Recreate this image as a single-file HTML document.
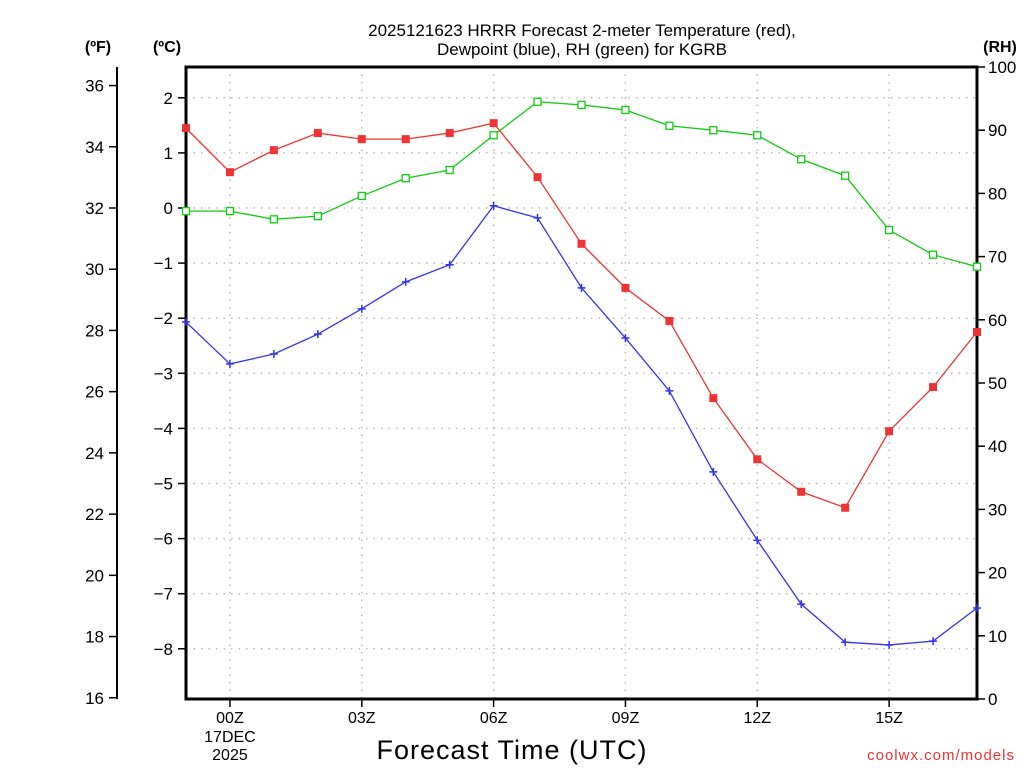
<!DOCTYPE html>
<html><head><meta charset="utf-8"><style>
body{margin:0;background:#fff;}
svg text{font-family:"Liberation Sans",sans-serif;fill:#000;}
</style></head><body>
<svg id="chart" width="1024" height="768" viewBox="0 0 1024 768" xmlns="http://www.w3.org/2000/svg">
<g id="grid"></g>
<g id="axes"></g>
<g id="series"></g>
<text x="582" y="36" font-size="17" text-anchor="middle">2025121623 HRRR Forecast 2-meter Temperature (red),</text>
<text x="582" y="55" font-size="17" text-anchor="middle">Dewpoint (blue), RH (green) for KGRB</text>
<text x="98" y="52" font-size="16" font-weight="bold" text-anchor="middle">(ºF)</text>
<text x="167" y="52" font-size="16" font-weight="bold" text-anchor="middle">(ºC)</text>
<text x="1000" y="52" font-size="16" font-weight="bold" text-anchor="middle">(RH)</text>
<text x="512" y="759" font-size="27" text-anchor="middle" letter-spacing="1">Forecast Time (UTC)</text>
<text x="1015" y="760" font-size="15" fill="#e33" style="fill:#ee3333" text-anchor="end" letter-spacing="1">coolwx.com/models</text>
</svg>
<script>
const hours=["23","00","01","02","03","04","05","06","07","08","09","10","11","12","13","14","15","16","17"];
const tempC=[1.45,0.65,1.05,1.36,1.25,1.25,1.36,1.54,0.56,-0.65,-1.45,-2.05,-3.45,-4.56,-5.15,-5.44,-4.05,-3.25,-2.25];
const dewC=[-2.07,-2.83,-2.65,-2.29,-1.83,-1.34,-1.03,0.04,-0.18,-1.45,-2.36,-3.32,-4.79,-6.03,-7.19,-7.88,-7.93,-7.86,-7.26];
const rh=[77.2,77.2,75.9,76.4,79.6,82.4,83.7,89.2,94.5,94.0,93.2,90.7,90.0,89.2,85.4,82.8,74.2,70.3,68.4];
const cTicks=[2,1,0,-1,-2,-3,-4,-5,-6,-7,-8];
const fTicks=[36,34,32,30,28,26,24,22,20,18,16];
const rhTicks=[0,10,20,30,40,50,60,70,80,90,100];
const xTickIdx=[1,4,7,10,13,16];
const xTickLabels=["00Z","03Z","06Z","09Z","12Z","15Z"];

const L=186,R=977,T=67,B=699;
const NS="http://www.w3.org/2000/svg";
const xS=i=>L+i*(R-L)/(hours.length-1);
const yC=c=>208-c*55.1;
const yF=f=>yC((f-32)*5/9);
const yR=r=>B-r*(B-T)/100;
function mk(tag,attrs,parent){const e=document.createElementNS(NS,tag);for(const k in attrs)e.setAttribute(k,attrs[k]);parent.appendChild(e);return e;}
const grid=document.getElementById('grid'),axes=document.getElementById('axes'),series=document.getElementById('series');

cTicks.forEach(c=>{
  const g=mk('line',{x1:L,x2:R,y1:yC(c),y2:yC(c),stroke:'#bbb','stroke-width':1.5,'stroke-dasharray':'1.5 6'},grid);
  
  
  const t=mk('line',{x1:L-8,x2:L,y1:yC(c),y2:yC(c),stroke:'#000','stroke-width':1.5},axes);
  
  
  const tx=mk('text',{x:L-13,y:yC(c)+6,'font-size':17,'text-anchor':'end'},axes);
  tx.textContent=(c<0?'\u2212'+(-c):String(c));
  
  
});
xTickIdx.forEach((i,k)=>{
  const g=mk('line',{x1:xS(i),x2:xS(i),y1:T,y2:B,stroke:'#bbb','stroke-width':1.5,'stroke-dasharray':'1.5 6'},grid);
  
  
  const t=mk('line',{x1:xS(i),x2:xS(i),y1:B,y2:B+8,stroke:'#000','stroke-width':1.5},axes);
  
  
  const tx=mk('text',{x:xS(i),y:723,'font-size':16,'text-anchor':'middle'},axes);
  tx.textContent=xTickLabels[k];
  
  
});
[["17DEC",742],["2025",760]].forEach(([s,y])=>{
  const tx=mk('text',{x:xS(1),y:y,'font-size':16,'text-anchor':'middle'},axes);
  tx.textContent=s;
  
  
});
// F axis
const fa=mk('line',{x1:117,x2:117,y1:67,y2:699,stroke:'#000','stroke-width':2},axes);


fTicks.forEach(f=>{
  const t=mk('line',{x1:109,x2:117,y1:yF(f),y2:yF(f),stroke:'#000','stroke-width':1.5},axes);
  
  
  const tx=mk('text',{x:104,y:yF(f)+6,'font-size':17,'text-anchor':'end'},axes);
  tx.textContent=f;
  
  
});
rhTicks.forEach(r=>{
  const t=mk('line',{x1:R,x2:R+8,y1:yR(r),y2:yR(r),stroke:'#000','stroke-width':1.5},axes);
  
  
  const tx=mk('text',{x:988,y:yR(r)+6,'font-size':17,'text-anchor':'start'},axes);
  tx.textContent=r;
  
  
});
const fr=mk('rect',{x:L,y:T,width:R-L,height:B-T,fill:'none',stroke:'#000','stroke-width':3},axes);



function line(vals,yf,color,name){
  const pl=mk('polyline',{points:vals.map((v,i)=>xS(i)+','+yf(v)).join(' '),fill:'none',stroke:color,'stroke-width':1.3},series);
  
  
}
line(rh,yR,'#11cc11','rh');
line(tempC,yC,'#ee3333','temperature');
line(dewC,yC,'#3333ee','dewpoint');
rh.forEach((v,i)=>{
  const m=mk('rect',{x:xS(i)-3.5,y:yR(v)-3.5,width:7,height:7,fill:'#fff',stroke:'#11cc11','stroke-width':1.3},series);
  
  
});
tempC.forEach((v,i)=>{
  const m=mk('rect',{x:xS(i)-4,y:yC(v)-4,width:8,height:8,fill:'#ee3333'},series);
  
  
});
dewC.forEach((v,i)=>{
  const x=xS(i),y=yC(v);
  const m=mk('path',{d:`M${x-4},${y}H${x+4}M${x},${y-4}V${y+4}`,stroke:'#3333ee','stroke-width':1.5},series);
  
  
});
</script>
</body></html>
